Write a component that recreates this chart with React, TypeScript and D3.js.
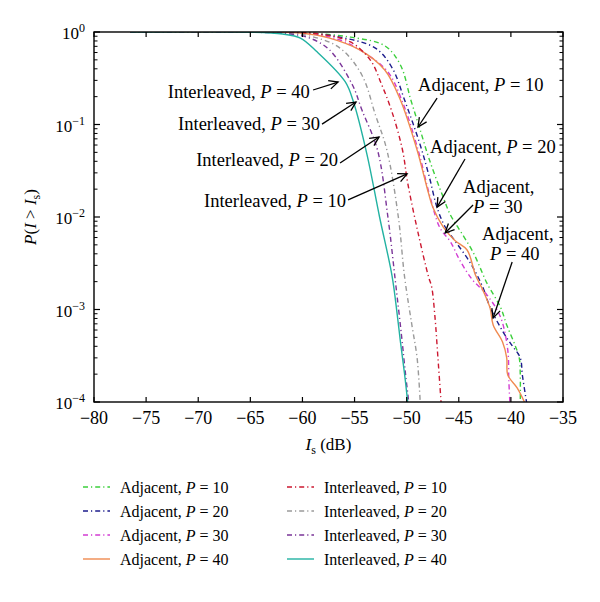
import React from 'react';
import * as d3 from 'd3';

type Pt = [number, number];

const xTicks = [-80, -75, -70, -65, -60, -55, -50, -45, -40, -35];
const yTickExps = [0, -1, -2, -3, -4];

const adjacentP10: Pt[] = [[-76.5, 1], [-62.0, 0.995], [-59.3, 0.975], [-55.4, 0.88], [-52.1, 0.71], [-50.6, 0.44], [-49.6, 0.184], [-48.7, 0.087], [-47.8, 0.041], [-46.5, 0.0164], [-45.8, 0.0105], [-45.1, 0.0078], [-43.6, 0.0041], [-42.3, 0.00193], [-41.0, 0.00106], [-40.4, 6.8e-4], [-39.6, 4.1e-4], [-39.2, 3.0e-4], [-39.1, 1.96e-4], [-39.1, 1e-4]];
const adjacentP20: Pt[] = [[-76.5, 1], [-62.5, 0.995], [-59.8, 0.975], [-56.4, 0.88], [-53.0, 0.67], [-51.4, 0.41], [-50.2, 0.184], [-48.7, 0.06], [-47.8, 0.0264], [-47.1, 0.0128], [-46.3, 0.0078], [-45.2, 0.0052], [-43.9, 0.0032], [-42.7, 0.00175], [-42.0, 0.00106], [-40.7, 5.6e-4], [-39.9, 4.1e-4], [-39.1, 3.0e-4], [-38.9, 1.96e-4], [-38.5, 1e-4]];
const adjacentP30: Pt[] = [[-76.5, 1], [-62.5, 0.995], [-59.8, 0.975], [-56.4, 0.82], [-54.0, 0.59], [-51.8, 0.37], [-50.4, 0.175], [-48.9, 0.053], [-47.8, 0.0173], [-46.8, 0.0076], [-45.8, 0.0054], [-44.9, 0.0034], [-43.7, 0.0021], [-42.3, 0.00144], [-41.0, 8.3e-4], [-40.3, 3.65e-4], [-40.2, 1.73e-4], [-40.1, 1e-4]];
const adjacentP40: Pt[] = [[-76.5, 1], [-63.0, 0.995], [-60.2, 0.975], [-57.4, 0.86], [-54.5, 0.64], [-52.1, 0.388], [-50.6, 0.184], [-49.0, 0.053], [-47.9, 0.018], [-47.5, 0.0128], [-46.5, 0.0078], [-45.4, 0.0056], [-44.2, 0.0044], [-43.4, 0.00236], [-42.7, 0.00163], [-42.0, 0.00104], [-41.7, 6.8e-4], [-40.8, 4.45e-4], [-40.4, 3.0e-4], [-40.3, 1.96e-4], [-39.4, 1.42e-4], [-38.7, 1e-4]];
const interleavedP10: Pt[] = [[-76.5, 1], [-61.5, 0.995], [-58.3, 0.95], [-55.4, 0.78], [-53.5, 0.5], [-52.4, 0.27], [-51.4, 0.136], [-50.4, 0.053], [-49.9, 0.0233], [-48.9, 0.0067], [-47.9, 0.00225], [-47.6, 0.00175], [-47.3, 8.7e-4], [-47.0, 3.0e-4], [-46.7, 1e-4]];
const interleavedP20: Pt[] = [[-76.5, 1], [-62.5, 0.99], [-59.3, 0.905], [-56.4, 0.67], [-54.3, 0.343], [-53.0, 0.127], [-51.9, 0.053], [-50.8, 0.01], [-50.2, 0.00225], [-49.5, 6.8e-4], [-49.0, 3.0e-4], [-48.7, 1e-4]];
const interleavedP30: Pt[] = [[-76.5, 1], [-64.0, 0.99], [-61.2, 0.95], [-59.3, 0.86], [-57.4, 0.64], [-55.2, 0.267], [-54.3, 0.144], [-52.8, 0.053], [-51.8, 0.01], [-51.1, 0.0021], [-50.5, 5.3e-4], [-50.1, 1.96e-4], [-49.8, 1e-4]];
const interleavedP40: Pt[] = [[-76.5, 1], [-65.0, 0.995], [-61.9, 0.95], [-60.2, 0.86], [-58.6, 0.61], [-55.9, 0.29], [-55.1, 0.175], [-53.8, 0.047], [-52.6, 0.01], [-51.4, 0.0023], [-50.9, 8.7e-4], [-50.6, 4.5e-4], [-50.2, 2.0e-4], [-49.9, 1e-4]];

const seriesNames = ['Adjacent', 'Adjacent', 'Adjacent', 'Adjacent', 'Interleaved', 'Interleaved', 'Interleaved', 'Interleaved'];
const seriesP = [10, 20, 30, 40, 10, 20, 30, 40];
const seriesData = [adjacentP10, adjacentP20, adjacentP30, adjacentP40, interleavedP10, interleavedP20, interleavedP30, interleavedP40];
const seriesColors = ['#3ccf3c', '#1c1c8c', '#d23cd2', '#f08a50', '#cc1830', '#9a9a9a', '#7a3498', '#22b2a2'];
const seriesDash = ['5,3,1.2,3', '5,3,1.2,3', '5,3,1.2,3', '', '5,3,1.2,3', '5,3,1.2,3', '5,3,1.2,3', ''];

type Ann = { label: string; p: number; tx: number; ty: number; anchor: 'start' | 'end'; twoLine: boolean; tx2?: number; ty2?: number; ax: number; ay: number; bx: number; by: number };
const annotations: Ann[] = [
  { label: 'Interleaved', p: 40, tx: -59.3, ty: 0.1934, anchor: 'end', twoLine: false, ax: -58.98, ay: 0.236, bx: -56.58, by: 0.288 },
  { label: 'Interleaved', p: 30, tx: -58.31, ty: 0.0872, anchor: 'end', twoLine: false, ax: -58.12, ay: 0.101, bx: -54.86, by: 0.175 },
  { label: 'Interleaved', p: 20, tx: -56.58, ty: 0.0356, anchor: 'end', twoLine: false, ax: -56.39, ay: 0.0383, bx: -52.65, by: 0.0732 },
  { label: 'Interleaved', p: 10, tx: -55.82, ty: 0.0128, anchor: 'end', twoLine: false, ax: -55.62, ay: 0.0153, bx: -49.96, by: 0.0292 },
  { label: 'Adjacent', p: 10, tx: -48.91, ty: 0.23, anchor: 'start', twoLine: false, ax: -47.08, ay: 0.193, bx: -48.91, by: 0.094 },
  { label: 'Adjacent', p: 20, tx: -47.75, ty: 0.0492, anchor: 'start', twoLine: false, ax: -44.4, ay: 0.0424, bx: -47.08, by: 0.0128 },
  { label: 'Adjacent', p: 30, tx: -44.59, ty: 0.01817, anchor: 'start', twoLine: true, tx2: -43.63, ty2: 0.01105, ax: -43.63, ay: 0.01349, bx: -46.31, by: 0.00671 },
  { label: 'Adjacent', p: 40, tx: -42.76, ty: 0.00564, anchor: 'start', twoLine: true, tx2: -42.0, ty2: 0.00343, ax: -39.88, ay: 0.00326, bx: -41.71, by: 8.09e-4 },
];

const FONT = '"Liberation Serif", "DejaVu Serif", serif';

export default function App() {
  const W = 600, H = 602;
  const L = 94, R = 563, T = 32, B = 402;
  const x = d3.scaleLinear().domain([-80, -35]).range([L, R]);
  const y = d3.scaleLog().domain([1e-4, 1]).range([B, T]);
  const line = d3.line<Pt>().x(d => x(d[0])).y(d => y(d[1])).curve(d3.curveCatmullRom.alpha(0.5));

  const minor: number[] = [];
  for (let e = -4; e < 0; e++) for (let m = 2; m <= 9; m++) minor.push(m * Math.pow(10, e));

  const arrowHead = (ax: number, ay: number, bx: number, by: number) => {
    const ang = Math.atan2(by - ay, bx - ax);
    const len = 10, sp = 0.45;
    const p1 = [bx - len * Math.cos(ang - sp), by - len * Math.sin(ang - sp)];
    const p2 = [bx - len * Math.cos(ang + sp), by - len * Math.sin(ang + sp)];
    return `M${p1[0]},${p1[1]}L${bx},${by}L${p2[0]},${p2[1]}`;
  };

  const label = (name: string, p: number) => (
    <>
      {name}, <tspan fontStyle="italic">P</tspan> = {p}
    </>
  );

  return (
    <svg width={W} height={H} style={{ position: 'absolute', left: 0, top: 0, background: '#fff' }} fontFamily={FONT}>
      <rect x={0} y={0} width={W} height={H} fill="#fff" />
      <defs>
        <clipPath id="plotclip">
          <rect x={L} y={T} width={R - L} height={B - T} />
        </clipPath>
      </defs>
      <g clipPath="url(#plotclip)">
        {seriesData.map((d, i) => (
          <path key={i} d={line(d) || ''} fill="none" stroke={seriesColors[i]} strokeWidth={1.4} strokeDasharray={seriesDash[i] || undefined} />
        ))}
      </g>
      <rect x={L} y={T} width={R - L} height={B - T} fill="none" stroke="#000" strokeWidth={1.4} />
      {xTicks.map(t => (
        <g key={t}>
          <line x1={x(t)} x2={x(t)} y1={B} y2={B - 5} stroke="#000" strokeWidth={1.2} />
          <line x1={x(t)} x2={x(t)} y1={T} y2={T + 5} stroke="#000" strokeWidth={1.2} />
          <text x={x(t)} y={B + 22} fontSize={18} textAnchor="middle">{t < 0 ? '\u2212' + Math.abs(t) : t}</text>
        </g>
      ))}
      {yTickExps.map(e => (
        <g key={e}>
          <line x1={L} x2={L + 6} y1={y(Math.pow(10, e))} y2={y(Math.pow(10, e))} stroke="#000" strokeWidth={1.2} />
          <line x1={R} x2={R - 6} y1={y(Math.pow(10, e))} y2={y(Math.pow(10, e))} stroke="#000" strokeWidth={1.2} />
          <text x={L - 9} y={y(Math.pow(10, e)) + 7} fontSize={17} textAnchor="end">
            10<tspan dy={-7} fontSize={12}>{e === 0 ? '0' : '\u2212' + Math.abs(e)}</tspan>
          </text>
        </g>
      ))}
      {minor.map((v, i) => (
        <g key={i}>
          <line x1={L} x2={L + 3.5} y1={y(v)} y2={y(v)} stroke="#000" strokeWidth={1} />
          <line x1={R} x2={R - 3.5} y1={y(v)} y2={y(v)} stroke="#000" strokeWidth={1} />
        </g>
      ))}
      <text x={(L + R) / 2} y={450} fontSize={17} textAnchor="middle">
        <tspan fontStyle="italic">I</tspan><tspan fontSize={12} dy={4}>s</tspan><tspan dy={-4}> (dB)</tspan>
      </text>
      <text transform={`translate(36,${(T + B) / 2}) rotate(-90)`} fontSize={17} textAnchor="middle">
        <tspan fontStyle="italic">P</tspan>(<tspan fontStyle="italic">I</tspan> &gt; <tspan fontStyle="italic">I</tspan><tspan fontSize={12} dy={4}>s</tspan><tspan dy={-4}>)</tspan>
      </text>
      {annotations.map((a, i) => (
        <g key={i}>
          {a.twoLine ? (
            <>
              <text x={x(a.tx)} y={y(a.ty)} fontSize={18.5} textAnchor={a.anchor}>{a.label},</text>
              <text x={x(a.tx2!)} y={y(a.ty2!)} fontSize={18.5} textAnchor={a.anchor}><tspan fontStyle="italic">P</tspan> = {a.p}</text>
            </>
          ) : (
            <text x={x(a.tx)} y={y(a.ty)} fontSize={18.5} textAnchor={a.anchor}>{label(a.label, a.p)}</text>
          )}
          <line x1={x(a.ax)} y1={y(a.ay)} x2={x(a.bx)} y2={y(a.by)} stroke="#000" strokeWidth={1.3} />
          <path d={arrowHead(x(a.ax), y(a.ay), x(a.bx), y(a.by))} fill="none" stroke="#000" strokeWidth={1.3} />
        </g>
      ))}
      {seriesData.map((_, i) => {
        const col = i < 4 ? 0 : 1;
        const row = i % 4;
        const lx = col === 0 ? 83 : 287;
        const ly = 487 + row * 24;
        return (
          <g key={i}>
            <line x1={lx} x2={lx + 27} y1={ly} y2={ly} stroke={seriesColors[i]} strokeWidth={1.4} strokeDasharray={seriesDash[i] || undefined} />
            <text x={lx + 37} y={ly + 5.5} fontSize={16}>{label(seriesNames[i], seriesP[i])}</text>
          </g>
        );
      })}
    </svg>
  );
}
